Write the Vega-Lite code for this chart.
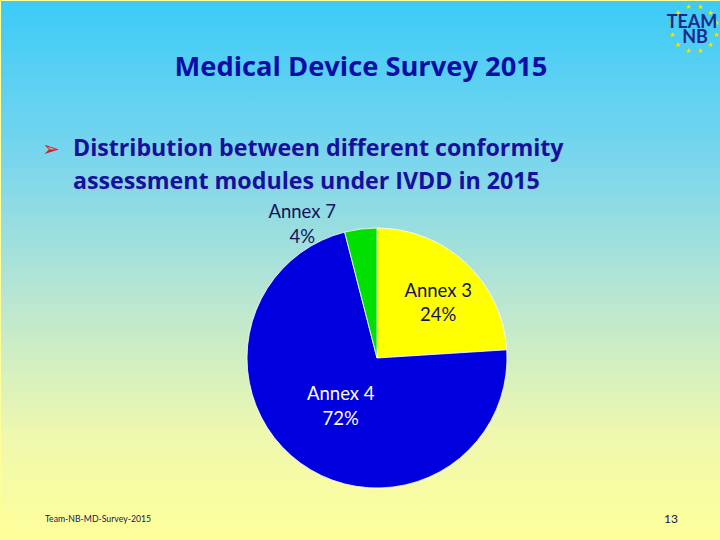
{
  "$schema": "https://vega.github.io/schema/vega-lite/v6.json",
  "width": 720,
  "height": 540,
  "autosize": {"type": "fit", "contains": "padding"},
  "padding": 0,
  "background": "#FFFF99",
  "config": {"font": "Lato", "view": {"stroke": null}},
  "datasets": {
    "modules": [
      {"module": "Annex 3", "share": 24, "order": 1, "lines": ["Annex 3", "24%"]},
      {"module": "Annex 4", "share": 72, "order": 2, "lines": ["Annex 4", "72%"]},
      {"module": "Annex 7", "share": 4, "order": 3, "lines": ["Annex 7", "4%"]}
    ],
    "stars": [
      {"s": 1}, {"s": 1}, {"s": 1}, {"s": 1}, {"s": 1}, {"s": 1},
      {"s": 1}, {"s": 1}, {"s": 1}, {"s": 1}, {"s": 1}, {"s": 1}
    ]
  },
  "resolve": {"scale": {"theta": "independent"}},
  "layer": [
    {
      "data": {"values": [{}]},
      "mark": {
        "type": "rect", "x": 0, "y": 0, "x2": 720, "y2": 540,
        "fill": {
          "gradient": "linear",
          "x1": 0, "y1": 0, "x2": 0, "y2": 1,
          "stops": [
            {"offset": 0, "color": "#3CCBF8"},
            {"offset": 0.3, "color": "#7BD6EC"},
            {"offset": 0.55, "color": "#B9E6D2"},
            {"offset": 0.8, "color": "#EEF8AE"},
            {"offset": 1, "color": "#FFFF99"}
          ]
        }
      },
      "encoding": {}
    },
    {
      "data": {"values": [{}]},
      "mark": {"type": "text", "x": 360, "y": 67, "align": "center", "baseline": "middle",
               "font": "Open Sans", "fontSize": 27.3, "fontWeight": "bold", "color": "#0C0CA6"},
      "encoding": {"text": {"value": "Medical Device Survey 2015"}}
    },
    {
      "data": {"values": [{}]},
      "mark": {"type": "rule", "x": 174, "x2": 546, "y": 80, "y2": 80, "color": "#C8232C", "strokeWidth": 2},
      "encoding": {}
    },
    {
      "data": {"values": [{}]},
      "mark": {"type": "text", "x": 50, "y": 149, "align": "center", "baseline": "middle",
               "fontSize": 21, "font": "DejaVu Sans", "color": "#D21E1E"},
      "encoding": {"text": {"value": "➢"}}
    },
    {
      "data": {"values": [{}]},
      "mark": {"type": "text", "x": 73.5, "y": 149.5, "align": "left", "baseline": "middle",
               "font": "Open Sans", "fontSize": 23.2, "fontWeight": "bold", "lineHeight": 33,
               "color": "#A8C4D4", "opacity": 0.6},
      "encoding": {"text": {"value": ["Distribution between different conformity", "assessment modules under IVDD  in 2015"]}}
    },
    {
      "data": {"values": [{}]},
      "mark": {"type": "text", "x": 72, "y": 148, "align": "left", "baseline": "middle",
               "font": "Open Sans", "fontSize": 23.2, "fontWeight": "bold", "lineHeight": 33, "color": "#12129E"},
      "encoding": {"text": {"value": ["Distribution between different conformity", "assessment modules under IVDD  in 2015"]}}
    },
    {
      "data": {"name": "modules"},
      "mark": {"type": "arc", "x": 376, "y": 357, "outerRadius": 130, "stroke": "#FFFFFF", "strokeWidth": 0.8},
      "encoding": {
        "theta": {"field": "share", "type": "quantitative", "stack": true},
        "order": {"field": "order", "type": "quantitative"},
        "color": {
          "field": "module", "type": "nominal", "legend": null,
          "scale": {"domain": ["Annex 3", "Annex 4", "Annex 7"], "range": ["#FFFF00", "#0000DE", "#00E000"]}
        }
      }
    },
    {
      "data": {"name": "modules"},
      "mark": {"type": "text", "x": 376, "y": 357, "radius": 85, "dx": 3, "dy": -5,
               "align": "center", "baseline": "middle", "fontSize": 18.5, "lineHeight": 24, "color": "#14145A"},
      "encoding": {
        "theta": {"field": "share", "type": "quantitative", "stack": true},
        "order": {"field": "order", "type": "quantitative"},
        "text": {"condition": {"test": "datum.module === 'Annex 3'", "field": "lines"}, "value": ""}
      }
    },
    {
      "data": {"name": "modules"},
      "mark": {"type": "text", "x": 376, "y": 357, "radius": 60, "dx": -1, "dy": -13,
               "align": "center", "baseline": "middle", "fontSize": 18.5, "lineHeight": 25, "color": "#FFFFFF"},
      "encoding": {
        "theta": {"field": "share", "type": "quantitative", "stack": true},
        "order": {"field": "order", "type": "quantitative"},
        "text": {"condition": {"test": "datum.module === 'Annex 4'", "field": "lines"}, "value": ""}
      }
    },
    {
      "data": {"name": "modules"},
      "mark": {"type": "text", "x": 376, "y": 357, "radius": 150, "dx": -56, "dy": 3,
               "align": "center", "baseline": "middle", "fontSize": 18.5, "lineHeight": 25, "color": "#14145A"},
      "encoding": {
        "theta": {"field": "share", "type": "quantitative", "stack": true},
        "order": {"field": "order", "type": "quantitative"},
        "text": {"condition": {"test": "datum.module === 'Annex 7'", "field": "lines"}, "value": ""}
      }
    },
    {
      "data": {"values": [{}]},
      "mark": {"type": "rule", "x": 337, "y": 218, "x2": 359, "y2": 229, "color": "#222222", "strokeWidth": 0.8},
      "encoding": {}
    },
    {
      "data": {"values": [{}]},
      "mark": {"type": "text", "x": 44, "y": 518, "align": "left", "baseline": "middle",
               "fontSize": 8.7, "color": "#14145A"},
      "encoding": {"text": {"value": "Team-NB-MD-Survey-2015"}}
    },
    {
      "data": {"values": [{}]},
      "mark": {"type": "text", "x": 670, "y": 518, "align": "center", "baseline": "middle",
               "fontSize": 12, "color": "#14145A"},
      "encoding": {"text": {"value": "13"}}
    },
    {
      "data": {"name": "stars"},
      "mark": {"type": "text", "x": 693, "y": 28, "radius": 23, "text": "★", "font": "DejaVu Sans",
               "fontSize": 7, "align": "center", "baseline": "middle", "color": "#F2E200"},
      "encoding": {
        "theta": {"field": "s", "type": "quantitative", "stack": true}
      }
    },
    {
      "data": {"values": [{}]},
      "mark": {"type": "text", "x": 691, "y": 22, "align": "center", "baseline": "middle",
               "fontSize": 18, "fontWeight": "bold", "color": "#1A2A8C"},
      "encoding": {"text": {"value": "TEAM"}}
    },
    {
      "data": {"values": [{}]},
      "mark": {"type": "text", "x": 694, "y": 37, "align": "center", "baseline": "middle",
               "fontSize": 18, "fontWeight": "bold", "color": "#1A2A8C"},
      "encoding": {"text": {"value": "NB"}}
    }
  ]
}
